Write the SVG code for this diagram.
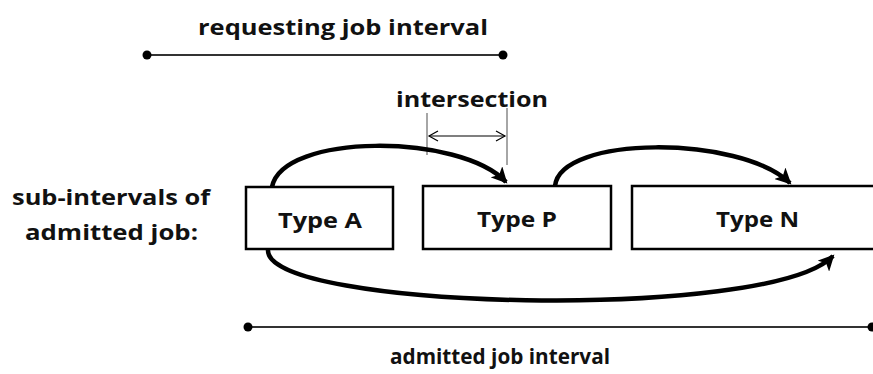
<svg xmlns="http://www.w3.org/2000/svg" width="873" height="374" viewBox="0 0 873 374">
<defs>
<style>
.t{font-family:"Open Sans","Noto Sans","Liberation Sans",sans-serif;font-weight:bold;font-size:22px;fill:#111;}
.box{fill:#fff;stroke:#000;stroke-width:2.5;}
.arc{fill:none;stroke:#000;stroke-width:4.5;}
.iv{stroke:#333;stroke-width:2;}
.guide{stroke:#888;stroke-width:1.5;}
</style>
<marker id="ah" markerUnits="userSpaceOnUse" markerWidth="18" markerHeight="16" refX="14" refY="8" orient="auto">
<path d="M0,0 L16,8 L0,16 L4,8 Z" fill="#000"/>
</marker>
<marker id="oa" markerUnits="userSpaceOnUse" markerWidth="12" markerHeight="12" refX="10" refY="6" orient="auto-start-reverse">
<path d="M1,1 L10,6 L1,11" fill="none" stroke="#000" stroke-width="1.2"/>
</marker>
</defs>
<rect width="873" height="374" fill="#fff"/>

<g id="requesting-interval">
<line class="iv" x1="147" y1="55" x2="503" y2="55"/>
<circle cx="147" cy="55" r="4.5" fill="#000"/>
<circle cx="503" cy="55" r="4.5" fill="#000"/>
<text class="t" x="198" y="35" textLength="290" lengthAdjust="spacingAndGlyphs">requesting job interval</text>
</g>

<g id="intersection">
<line class="guide" x1="427" y1="113" x2="427" y2="155"/>
<line class="guide" x1="507" y1="108" x2="507" y2="165"/>
<line x1="429" y1="136" x2="505" y2="136" stroke="#000" stroke-width="1.2" marker-start="url(#oa)" marker-end="url(#oa)"/>
<text class="t" x="396" y="107" textLength="152" lengthAdjust="spacingAndGlyphs">intersection</text>
</g>

<g id="label-subintervals">
<text class="t" x="12" y="205" textLength="198" lengthAdjust="spacingAndGlyphs">sub-intervals of</text>
<text class="t" x="25" y="240" textLength="173" lengthAdjust="spacingAndGlyphs">admitted job:</text>
</g>

<g id="connectors">
<path class="arc" d="M272,187 C282,133 460,133 506,182" marker-end="url(#ah)"/>
<path class="arc" d="M555,186 C560,135 740,135 790,183" marker-end="url(#ah)"/>
<path class="arc" d="M268,250 C265,310 770,322 833,256" marker-end="url(#ah)"/>
</g>

<g id="typeA">
<rect class="box" x="246" y="187" width="147" height="62"/>
<text class="t" x="278" y="228" textLength="84" lengthAdjust="spacingAndGlyphs">Type A</text>
</g>
<g id="typeP">
<rect class="box" x="423" y="186" width="188" height="63"/>
<text class="t" x="477" y="227" textLength="80" lengthAdjust="spacingAndGlyphs">Type P</text>
</g>
<g id="typeN">
<rect class="box" x="632" y="186" width="250" height="63"/>
<text class="t" x="716" y="227" textLength="83" lengthAdjust="spacingAndGlyphs">Type N</text>
</g>

<g id="admitted-interval">
<line class="iv" x1="248" y1="327" x2="871" y2="327"/>
<circle cx="248" cy="327" r="4.5" fill="#000"/>
<circle cx="872" cy="327" r="4.5" fill="#000"/>
<text class="t" x="390" y="364" textLength="220" lengthAdjust="spacingAndGlyphs">admitted job interval</text>
</g>
</svg>
